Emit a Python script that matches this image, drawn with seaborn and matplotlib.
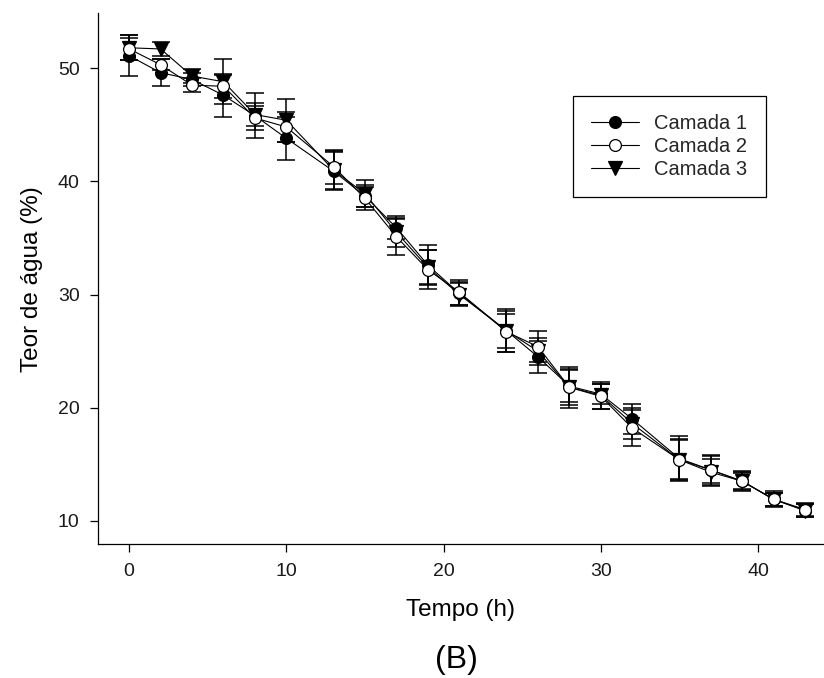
import seaborn as sns
import matplotlib.pyplot as plt
import pandas as pd

# Tempo de secagem (h)
tempo = [0, 2, 4, 6, 8, 10, 13, 15, 17, 19, 21, 24, 26, 28, 30, 32, 35, 37, 39, 41, 43]

# Teor de água (%) por camada
camada1 = [51.1, 49.6, 49.0, 47.6, 45.8, 43.8, 40.9, 38.7, 35.9, 32.6, 30.1, 26.8, 24.5,
           21.9, 21.2, 19.0, 15.5, 14.5, 13.5, 11.9, 10.9]
camada2 = [51.7, 50.3, 48.5, 48.4, 45.6, 44.8, 41.3, 38.5, 35.1, 32.2, 30.2, 26.7, 25.4,
           21.8, 21.0, 18.2, 15.4, 14.5, 13.5, 11.9, 11.0]
camada3 = [51.8, 51.7, 49.3, 48.8, 45.9, 45.4, 41.0, 38.9, 35.5, 32.4, 30.0, 26.8, 25.0,
           21.8, 21.1, 18.6, 15.4, 14.3, 13.5, 11.9, 10.9]

# Desvio padrão
erro1 = [1.8, 1.2, 0.6, 1.9, 2.0, 1.9, 1.7, 1.0, 1.0, 1.8, 1.0, 1.9, 1.4, 1.4, 0.9, 1.3,
         2.0, 1.2, 0.7, 0.6, 0.6]
erro2 = [1.0, 0.5, 0.6, 1.0, 1.1, 1.3, 1.5, 1.0, 1.6, 1.7, 1.1, 1.8, 1.4, 1.8, 1.1, 1.6,
         1.7, 1.3, 0.8, 0.7, 0.6]
erro3 = [1.1, 0.6, 0.6, 2.0, 1.0, 1.9, 1.7, 1.2, 1.3, 1.5, 1.0, 1.5, 1.2, 1.6, 1.2, 1.4,
         1.8, 1.2, 0.9, 0.6, 0.6]

sns.set_style("ticks")
plt.rcParams['font.family'] = ['Liberation Sans', 'DejaVu Sans']

fig = plt.figure(figsize=(8.24, 6.78), dpi=100)
ax = fig.add_axes([0.1186, 0.1976, 0.8814, 0.7828])

# series: (label, values, errors, marker, facecolor, zorder)
series = [
    ("Camada 3", camada3, erro3, "v", "black", 2),
    ("Camada 1", camada1, erro1, "o", "black", 3),
    ("Camada 2", camada2, erro2, "o", "white", 4),
]

handles = {}
for label, vals, errs, marker, fc, z in series:
    df = pd.DataFrame({"Tempo": tempo, "Teor": vals})
    ax.errorbar(df["Tempo"], df["Teor"], yerr=errs, fmt="none", ecolor="black",
                elinewidth=1.1, capsize=6.5, capthick=1.1, zorder=z)
    sns.lineplot(data=df, x="Tempo", y="Teor", ax=ax, color="black", linewidth=0.8,
                 marker=marker, markersize=9.5 if marker == "v" else 8.5,
                 markerfacecolor=fc, markeredgecolor="black", markeredgewidth=0.9,
                 label=label, zorder=z + 0.5, legend=False)
    handles[label] = ax.lines[-1]

ax.set_xlim(-2, 44.2)
ax.set_ylim(7.95, 54.85)
ax.set_xticks([0, 10, 20, 30, 40])
ax.set_yticks([10, 20, 30, 40, 50])

for side in ["top", "right"]:
    ax.spines[side].set_visible(False)
for side in ["left", "bottom"]:
    ax.spines[side].set_color("black")
    ax.spines[side].set_linewidth(0.9)

ax.tick_params(axis="both", direction="out", length=6, width=0.9, color="black",
               labelsize=14, labelcolor="#1a1a1a")
ax.tick_params(axis="y", pad=7)
ax.tick_params(axis="x", pad=8)

ax.set_xlabel("Tempo (h)", fontsize=17.5, labelpad=13, color="black")
ax.set_ylabel("Teor de água (%)", fontsize=17.5, labelpad=11, color="black")

order = ["Camada 1", "Camada 2", "Camada 3"]
leg = ax.legend([handles[k] for k in order], order, loc="upper left",
                bbox_to_anchor=(572.7 / 824, 1 - 96 / 678), bbox_transform=fig.transFigure,
                fontsize=14.5, fancybox=False, frameon=True, edgecolor="black",
                framealpha=1, handlelength=2.4, handletextpad=0.75, labelspacing=0.2,
                borderpad=0.9, borderaxespad=0)
leg.get_frame().set_linewidth(0.9)

fig.text(456 / 824, 1 - 660 / 678, "(B)", ha="center", va="center", fontsize=23,
         color="black")

fig.savefig("out.png", dpi=100)
